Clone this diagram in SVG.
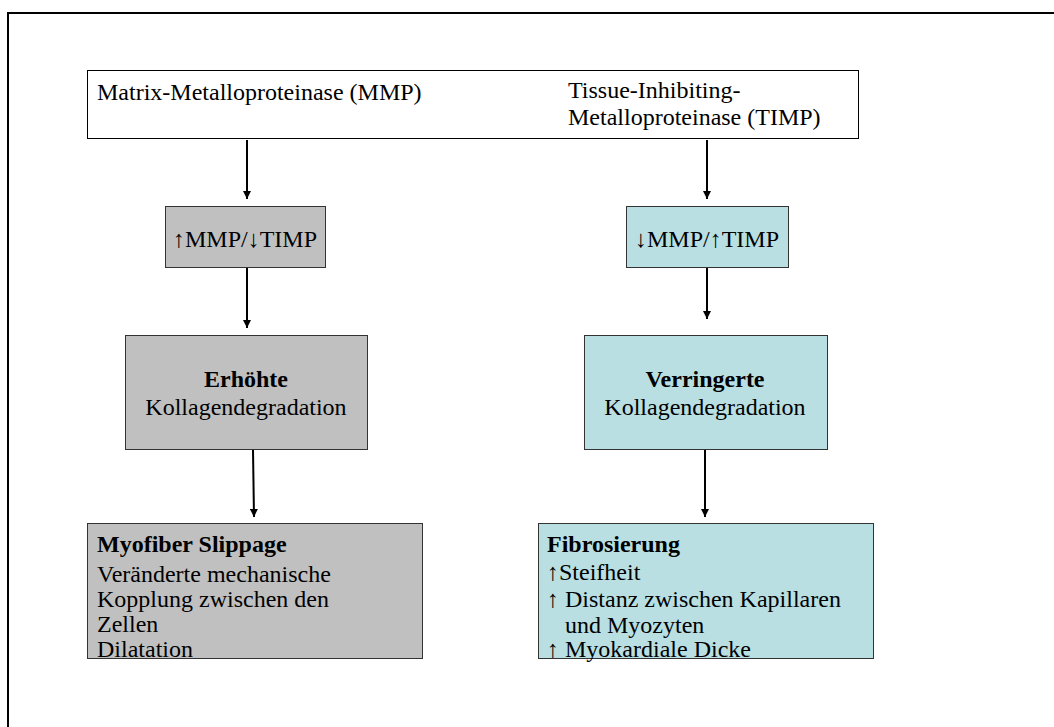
<svg xmlns="http://www.w3.org/2000/svg" width="1054" height="727" viewBox="0 0 1054 727">
<defs>
<marker id="ah" viewBox="0 0 10 10" refX="10" refY="5" markerWidth="4" markerHeight="4" orient="auto" markerUnits="strokeWidth"><path d="M0,0 L10,5 L0,10 z" fill="#000"/></marker>
<style>
text{font-family:"Liberation Serif","Times New Roman",serif;font-size:24px;fill:#000}
.b{font-weight:bold}
.m{text-anchor:middle}
.gray{fill:#c0c0c0;stroke:#333;stroke-width:1}
.teal{fill:#b9dfe3;stroke:#333;stroke-width:1}
.conn line{stroke:#000;stroke-width:2;marker-end:url(#ah)}
</style>
</defs>
<rect width="1054" height="727" fill="#fff"/>
<path d="M8,727 V13 H1054" fill="none" stroke="#000" stroke-width="2"/>
<g id="top">
<rect x="87.5" y="70.5" width="771" height="68" fill="#fff" stroke="#000" stroke-width="1"/>
<text x="97" y="100">Matrix-Metalloproteinase (MMP)</text>
<text x="568" y="98">Tissue-Inhibiting-</text>
<text x="568" y="125">Metalloproteinase (TIMP)</text>
</g>
<g id="mmp-up">
<rect class="gray" x="165.5" y="206.5" width="160" height="61"/>
<text class="m" x="245" y="247">↑MMP/↓TIMP</text>
</g>
<g id="mmp-down">
<rect class="teal" x="626.5" y="206.5" width="162" height="61"/>
<text class="m" x="707" y="247">↓MMP/↑TIMP</text>
</g>
<g id="erhoehte">
<rect class="gray" x="125.5" y="335.5" width="242" height="114"/>
<text class="m b" x="246" y="387">Erhöhte</text>
<text class="m" x="246" y="415">Kollagendegradation</text>
</g>
<g id="verringerte">
<rect class="teal" x="584.5" y="335.5" width="243" height="114"/>
<text class="m b" x="705" y="387">Verringerte</text>
<text class="m" x="705" y="415">Kollagendegradation</text>
</g>
<g id="myofiber">
<rect class="gray" x="87.5" y="523.5" width="335" height="135"/>
<text class="b" x="97" y="552">Myofiber Slippage</text>
<text x="97" y="582">Veränderte mechanische</text>
<text x="97" y="607">Kopplung zwischen den</text>
<text x="97" y="632">Zellen</text>
<text x="97" y="657">Dilatation</text>
</g>
<g id="fibrosierung">
<rect class="teal" x="538.5" y="523.5" width="335" height="135"/>
<text class="b" x="547" y="552">Fibrosierung</text>
<text x="547" y="580">↑Steifheit</text>
<text x="547" y="607">↑ Distanz zwischen Kapillaren</text>
<text x="565" y="633">und Myozyten</text>
<text x="547" y="657">↑ Myokardiale Dicke</text>
</g>
<g class="conn" id="connectors">
<line x1="247" y1="140" x2="247" y2="199"/>
<line x1="707" y1="140" x2="707" y2="199"/>
<line x1="247" y1="268" x2="247" y2="328"/>
<line x1="707" y1="268" x2="707" y2="319"/>
<line x1="253" y1="450" x2="254" y2="517"/>
<line x1="705" y1="450" x2="705" y2="517"/>
</g>
</svg>
